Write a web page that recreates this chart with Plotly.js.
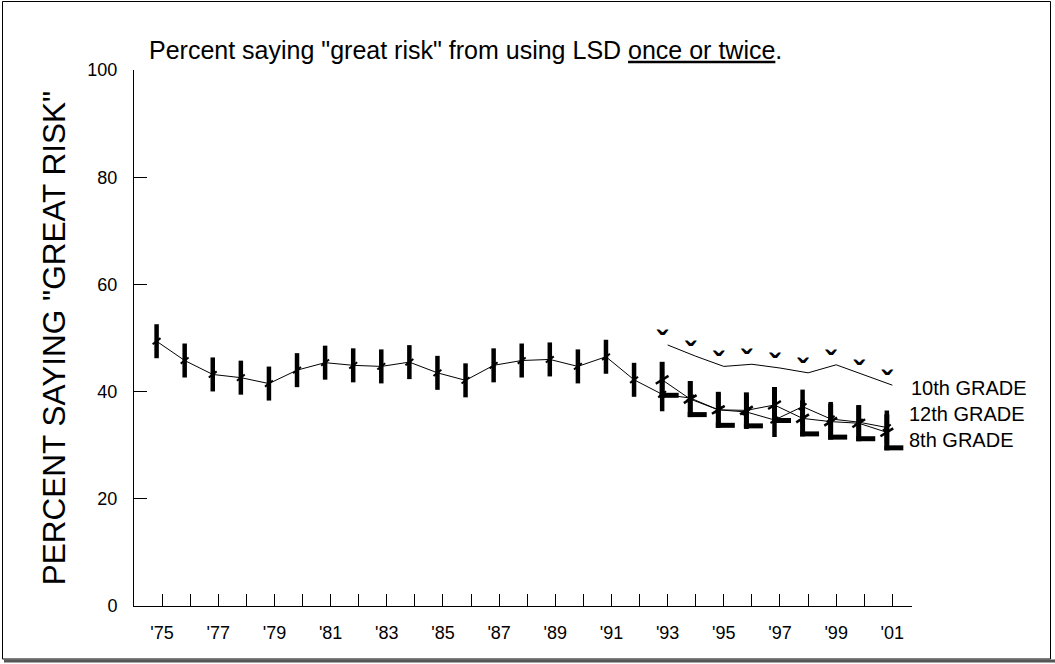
<!DOCTYPE html>
<html><head><meta charset="utf-8">
<script src="https://cdn.plot.ly/plotly-3.0.1.min.js"></script>
<style>html,body{margin:0;padding:0;background:#fff;} #chart{width:1055px;height:664px;}</style>
</head><body><div id="chart"></div>
<script>
// ---- data ----
const years12 = [1975,1976,1977,1978,1979,1980,1981,1982,1983,1984,1985,1986,1987,1988,1989,1990,1991,1992,1993,1994,1995,1996,1997,1998,1999,2000,2001];
const grade12 = [49.4,45.8,43.2,42.6,41.5,44.0,45.4,44.9,44.7,45.5,43.5,42.1,44.9,45.8,46.0,44.7,46.5,42.2,39.5,38.8,36.6,36.2,34.7,37.2,34.9,34.3,33.3];
const years810 = [1993,1994,1995,1996,1997,1998,1999,2000,2001];
const grade10 = [48.7,46.6,44.7,45.1,44.4,43.5,45.0,43.1,41.2];
const grade8  = [42.2,38.6,36.6,36.5,37.5,35.0,34.4,34.1,32.4];
const tickYears = years12;
const tickLabels = ["'75","","'77","","'79","","'81","","'83","","'85","","'87","","'89","","'91","","'93","","'95","","'97","","'99","","'01"];
const yTicks = [0,20,40,60,80,100];
const seriesNames = ["10th GRADE","12th GRADE","8th GRADE"];
const titleText = 'Percent saying "great risk" from using LSD <u>once or twice</u>.';
const yTitle = 'PERCENT SAYING "GREAT RISK"';

// ---- layout geometry ----
const W = 1055, H = 664, L = 134, R = 143, T = 70, B = 58;
const pw = W - L - R, ph = H - T - B;
const px = x => (x - L) / pw;
const py = y => (H - B - y) / ph;
const FONT = 'Liberation Sans, Arial, sans-serif';
const xr = [1974, 2001.7];
const pxPerYear = pw / (xr[1] - xr[0]);
const pxPerUnit = ph / 100;
// glyph offsets (pixels) of the original chart's marker glyphs
const glyphDx = -5.5;   // 12th / 8th points sit left of the tick marks
const footDx = 1.5;     // centre of the "L" foot relative to tick
const footDy = 15.5;    // foot below the point
const xShift = d => [xr[0] - d / pxPerYear, xr[1] - d / pxPerYear];
const yShift = d => [d / pxPerUnit, 100 + d / pxPerUnit];
const lineLen = len => len / 1.4; // plotly line-* symbols draw 1.4 x size

const BLACK = '#000';
const traces = [
  // 12th grade line + "I" markers + slashes
  {x: years12, y: grade12, xaxis: 'x2', yaxis: 'y', mode: 'lines', line: {color: BLACK, width: 1}},
  {x: years12, y: grade12, xaxis: 'x2', yaxis: 'y', mode: 'markers',
   marker: {symbol: 'line-ns', size: lineLen(34), color: BLACK, line: {color: BLACK, width: 4.5}}},
  {x: years12, y: grade12, xaxis: 'x2', yaxis: 'y', mode: 'markers',
   marker: {symbol: 'line-ew', size: lineLen(10), angle: -38, color: BLACK, line: {color: BLACK, width: 2}}},
  // 8th grade line + "L" markers (stem + foot) + slashes
  {x: years810, y: grade8, xaxis: 'x2', yaxis: 'y', mode: 'lines', line: {color: BLACK, width: 1}},
  {x: years810, y: grade8, xaxis: 'x2', yaxis: 'y', mode: 'markers',
   marker: {symbol: 'line-ns', size: lineLen(36), color: BLACK, line: {color: BLACK, width: 5}}},
  {x: years810, y: grade8, xaxis: 'x3', yaxis: 'y2', mode: 'markers',
   marker: {symbol: 'line-ew', size: lineLen(19), color: BLACK, line: {color: BLACK, width: 5}}},
  {x: years810, y: grade8, xaxis: 'x2', yaxis: 'y', mode: 'markers',
   marker: {symbol: 'line-ew', size: lineLen(15), angle: -32, color: BLACK, line: {color: BLACK, width: 2.5}}},
  // 10th grade line + chevrons
  {x: years810, y: grade10, xaxis: 'x', yaxis: 'y', mode: 'lines', line: {color: BLACK, width: 1}},
  {x: years810, y: grade10, xaxis: 'x2', yaxis: 'y', mode: 'text', text: years810.map(() => 'ˇ'),
   textposition: 'middle center', textfont: {family: FONT, size: 32, color: BLACK, weight: 'bold'}}
];

const layout = {
  width: W, height: H,
  margin: {l: L, r: R, t: T, b: B, pad: 0},
  paper_bgcolor: '#fff', plot_bgcolor: '#fff',
  showlegend: false,
  font: {family: FONT, color: BLACK, size: 18},
  title: {text: titleText, font: {family: FONT, size: 25, color: BLACK},
          xref: 'container', yref: 'container', x: 149 / W, xanchor: 'left', y: 1 - 50 / H, yanchor: 'middle'},
  xaxis: {range: xr, showgrid: false, zeroline: false, showline: true, linecolor: BLACK, linewidth: 1,
          ticks: 'inside', ticklen: 12, tickwidth: 1, tickcolor: BLACK,
          tickmode: 'array', tickvals: tickYears, ticktext: tickLabels,
          tickfont: {family: FONT, size: 18, color: BLACK}, ticklabelstandoff: 10, fixedrange: true},
  xaxis2: {range: xShift(glyphDx), overlaying: 'x', anchor: 'y', visible: false, fixedrange: true},
  xaxis3: {range: xShift(footDx), overlaying: 'x', anchor: 'y', visible: false, fixedrange: true},
  yaxis: {range: [0, 100], showgrid: false, zeroline: false, showline: true, linecolor: BLACK, linewidth: 1,
          ticks: 'inside', ticklen: 13, tickwidth: 1, tickcolor: BLACK,
          tickmode: 'array', tickvals: yTicks, ticktext: yTicks.map(String),
          tickfont: {family: FONT, size: 18, color: BLACK}, ticklabelstandoff: 12,
          title: {text: yTitle, font: {family: FONT, size: 31.5, color: BLACK}, standoff: 12}, fixedrange: true},
  yaxis2: {range: yShift(footDy), overlaying: 'y', anchor: 'x', visible: false, fixedrange: true},
  annotations: [
    {text: seriesNames[0], xref: 'paper', yref: 'paper', x: px(909), y: py(388), xanchor: 'left', yanchor: 'middle', showarrow: false, font: {family: FONT, size: 20, color: BLACK}},
    {text: seriesNames[1] + '<br>' + seriesNames[2], xref: 'paper', yref: 'paper', x: px(907), y: py(427), xanchor: 'left', yanchor: 'middle', align: 'left', showarrow: false, font: {family: FONT, size: 20, color: BLACK}}
  ],
  shapes: [
    {type: 'rect', xref: 'paper', yref: 'paper', x0: px(2.5), x1: px(1050.5), y0: py(659), y1: py(1.5), line: {color: BLACK, width: 1}, fillcolor: 'rgba(0,0,0,0)', layer: 'below'},
    {type: 'line', xref: 'paper', yref: 'paper', x0: px(4), x1: px(1055), y0: py(661), y1: py(661), line: {color: '#555', width: 3}}
  ]
};

Plotly.newPlot('chart', traces, layout, {staticPlot: true, displayModeBar: false});
</script>
</body></html>
